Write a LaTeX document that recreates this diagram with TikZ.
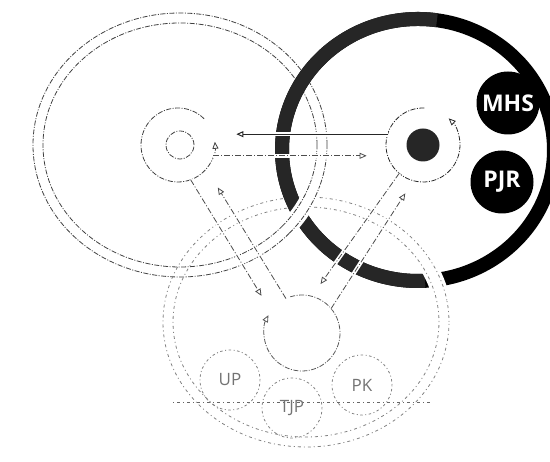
\documentclass[tikz,border=0pt]{standalone}
\usepackage{fontspec}
\newfontfamily\logofont{Open Sans}
\usetikzlibrary{arrows.meta}

\begin{document}
\begin{tikzpicture}[
    x=1pt, y=1pt,
    hub/.style={
        circle,
        minimum size=74pt,
        inner sep=0pt,
        outer sep=0pt
    },
    member/.style={
        circle,
        fill=black,
        minimum size=63pt,
        inner sep=0pt,
        text=white,
        font=\logofont\bfseries\fontsize{23}{23}\selectfont
    },
    faintmember/.style={
        circle,
        draw=black!50,
        line width=0.8pt,
        dash pattern=on 1pt off 2.5pt on 2.5pt off 2.5pt,
        minimum size=60pt,
        inner sep=0pt,
        text=black!55,
        font=\logofont\fontsize{17}{17}\selectfont
    },
    leftline/.style={
        draw=black!75,
        line width=0.8pt,
        dash pattern=on 5pt off 1.5pt on 1pt off 1.5pt
    },
    lowline/.style={
        draw=black!50,
        line width=0.8pt,
        dash pattern=on 1pt off 3pt on 3pt off 3pt
    },
    flow/.style={
        draw=black!70,
        line width=0.8pt,
        dash pattern=on 6pt off 2pt on 1pt off 2pt,
        shorten >=21pt,
        -{Triangle[open, length=7pt, width=6pt]},
        preaction={draw=white, line width=4pt, solid, arrows=-}
    }
]
\useasboundingbox (0,0) rectangle (550,462);

% Ring centres
\coordinate (leftring) at (180,317);
\coordinate (lowring) at (306,140);
\coordinate (rightring) at (418,312);

% Left ring (outline only)
\draw[leftline] (leftring) ellipse[x radius=147, y radius=132];
\draw[leftline] (leftring) ellipse[x radius=137, y radius=122];

% Lower ring (outline only)
\draw[lowline] (lowring) ellipse[x radius=143, y radius=125];
\draw[lowline] (lowring) ellipse[x radius=133, y radius=115];

% Right ring
\draw[line width=14pt] (rightring) ellipse[x radius=136, y radius=131];
\draw[line width=14pt, black!85] (rightring) ++(82:136 and 131)
    arc[start angle=82, end angle=273, x radius=136, y radius=131];

% Left ring passes over the right ring
\draw[white, line width=17pt] (leftring) ++(-42:142 and 127)
    arc[start angle=-42, end angle=-18, x radius=142, y radius=127];
\draw[leftline] (leftring) ++(-42:147 and 132)
    arc[start angle=-42, end angle=-18, x radius=147, y radius=132];
\draw[leftline] (leftring) ++(-42:137 and 122)
    arc[start angle=-42, end angle=-18, x radius=137, y radius=122];

% Lower ring passes over the right ring
\draw[white, line width=17pt] (lowring) ++(10:138 and 120)
    arc[start angle=10, end angle=35, x radius=138, y radius=120];
\draw[lowline] (lowring) ++(10:143 and 125)
    arc[start angle=10, end angle=35, x radius=143, y radius=125];
\draw[lowline] (lowring) ++(10:133 and 115)
    arc[start angle=10, end angle=35, x radius=133, y radius=115];

% Hubs
\node[hub] (lhub) at (178,317) {};
\node[hub] (rhub) at (423,317) {};
\node[hub, minimum size=76pt] (bhub) at (302,129) {};

\draw[leftline, -{Triangle[open, length=7pt, width=6pt]}]
    (lhub.45) arc[start angle=45, end angle=365, radius=37];
\draw[leftline] (180,317) circle[radius=14];

\draw[leftline, draw=black!85, -{Triangle[open, length=7pt, width=6pt]}]
    (rhub.88) arc[start angle=88, end angle=406, radius=37];
\node[circle, fill=black!85, minimum size=33pt, inner sep=0pt] (rdot) at (rhub) {};

\draw[leftline, draw=black!65, -{Triangle[open, length=7pt, width=6pt]}]
    (bhub.108) arc[start angle=108, end angle=-208, radius=38];

% Arrows between the hubs
\draw[flow, solid, draw=black!85, line width=1pt, shorten >=23pt] (rhub.163) -- (lhub.17);
\draw[flow] (lhub.-17) -- (rhub.197);
\draw[flow, shorten >=18pt] (lhub.-70) -- (bhub.145);
\draw[flow, shorten >=22pt] (bhub.115) -- (lhub.-40);
\draw[flow, shorten >=15pt] (rhub.-130) -- (bhub.75);
\draw[flow, shorten >=15pt] (bhub.40) -- (rhub.-105);

% Members of the right ring
\node[member] (mhs) at (508,359) {MHS};
\node[member] (pjr) at (502,280) {PJR};

% Members of the lower ring
\coordinate (baseL) at (173,60);
\coordinate (baseR) at (430,60);
\draw[lowline, draw=black!60] (baseL) -- (baseR);

\node[faintmember] (up) at (230,82) {UP};
\node[faintmember] (tjp) at (292,54) {TJP};
\node[faintmember] (pk) at (362,77) {PK};

\end{tikzpicture}
\end{document}
